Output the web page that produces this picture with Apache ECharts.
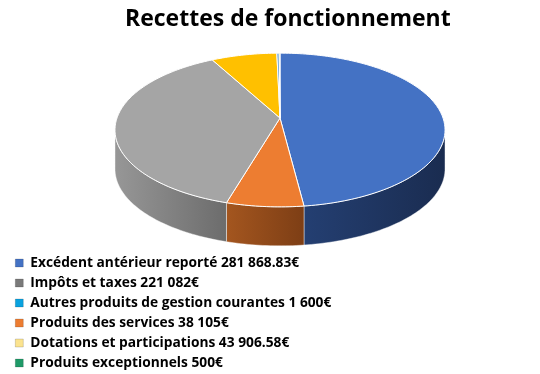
<!DOCTYPE html>
<html><head><meta charset="utf-8">
<script src="https://cdn.jsdelivr.net/npm/echarts@6/dist/echarts.min.js"></script>
<style>html,body{margin:0;padding:0;background:#fff}#c{width:540px;height:374px}</style>
</head><body><div id="c"></div>
<script>
// ---- data (legend order) ----
const categories = ['Excédent antérieur reporté','Impôts et taxes','Autres produits de gestion courantes','Produits des services','Dotations et participations','Produits exceptionnels'];
const amountLabels = ['281 868.83€','221 082€','1 600€','38 105€','43 906.58€','500€'];
const values = [281868.83, 221082, 1600, 38105, 43906.58, 500];
const pieOrder = [0, 3, 1, 4, 2, 5]; // order of slices clockwise from 12 o'clock
const titleText = 'Recettes de fonctionnement';

// ---- styles ----
const topColors = ['#4472C4','#A5A5A5','#5B9BD5','#ED7D31','#FFC000','#70AD47'];
const legendColors = ['#4472C4','#7A7A7A','#0AA2DF','#ED7D31','#FBE38F','#1F9A68'];
const sideColors = [['#243f72','#1a2c50'],['#979797','#6c6c6c'],['#3a6f9f','#2c557a'],['#a4561f','#7d3e15'],['#b88b00','#8f6c00'],['#4c7a30','#3a5e25']];
const G = {cx: 280, cy: 118, rx: 163, ry: 75, k: 0.156, h: 39};

const total = values.reduce((a, b) => a + b, 0);
const names = categories.map((c, i) => c + ' ' + amountLabels[i]);
const startVals = {};
let acc = 0;
pieOrder.forEach(i => { startVals[i] = acc; acc += values[i]; });

function proj(t, dz) {
  const u = Math.sin(t), v = -Math.cos(t);
  const s = 1 / (1 - G.k * v);
  return [G.cx + G.rx * u * s, G.cy + G.ry * v * s + dz];
}
function arc(t0, t1, dz) {
  const n = Math.max(2, Math.ceil((t1 - t0) / 0.02));
  const pts = [];
  for (let j = 0; j <= n; j++) pts.push(proj(t0 + (t1 - t0) * j / n, dz));
  return pts;
}
const ta = Math.acos(-G.k), tb = 2 * Math.PI - Math.acos(-G.k);

const series = pieOrder.map(i => ({
  type: 'custom',
  name: names[i],
  coordinateSystem: 'none',
  itemStyle: {color: legendColors[i]},
  data: [[startVals[i], values[i]]],
  renderItem: (params, api) => {
    const a0 = api.value(0) / total * 2 * Math.PI;
    const a1 = (api.value(0) + api.value(1)) / total * 2 * Math.PI;
    const children = [];
    const w0 = Math.max(a0, ta), w1 = Math.min(a1, tb);
    if (w1 > w0) {
      const topArc = arc(w0, w1, 0);
      const botArc = arc(w0, w1, G.h).reverse();
      children.push({
        type: 'polygon',
        shape: {points: topArc.concat(botArc)},
        style: {
          fill: {type: 'linear', x: 0, y: 0, x2: 1, y2: 0, global: false,
            colorStops: [{offset: 0, color: sideColors[i][0]}, {offset: 1, color: sideColors[i][1]}]},
          stroke: 'rgba(255,255,255,0.55)', lineWidth: 0.8
        }
      });
    }
    const topPts = [[G.cx, G.cy]].concat(arc(a0, a1, 0));
    children.push({
      type: 'polygon',
      shape: {points: topPts},
      style: {fill: topColors[i], stroke: '#ffffff', lineWidth: 1, lineJoin: 'round'}
    });
    return {type: 'group', children: children};
  }
}));

const chart = echarts.init(document.getElementById('c'), null, {renderer: 'canvas'});
chart.setOption({
  animation: false,
  backgroundColor: '#ffffff',
  title: {
    text: titleText, left: 120, top: 3,
    textStyle: {fontFamily: 'Open Sans', fontWeight: 'bold', fontSize: 23, color: '#000'}
  },
  legend: {
    orient: 'vertical', left: 15, top: 255, padding: 0,
    icon: 'rect', itemWidth: 8, itemHeight: 8, itemGap: 4,
    selectedMode: false,
    textStyle: {fontFamily: 'Open Sans', fontWeight: 'bold', fontSize: 13.75, lineHeight: 16, color: '#000', padding: [0, 0, 0, 2]},
    data: categories.map((c, i) => ({name: names[i], itemStyle: {color: legendColors[i], borderColor: 'rgba(0,0,0,0.25)', borderWidth: 0.6}}))
  },
  series: series
});
</script></body></html>
